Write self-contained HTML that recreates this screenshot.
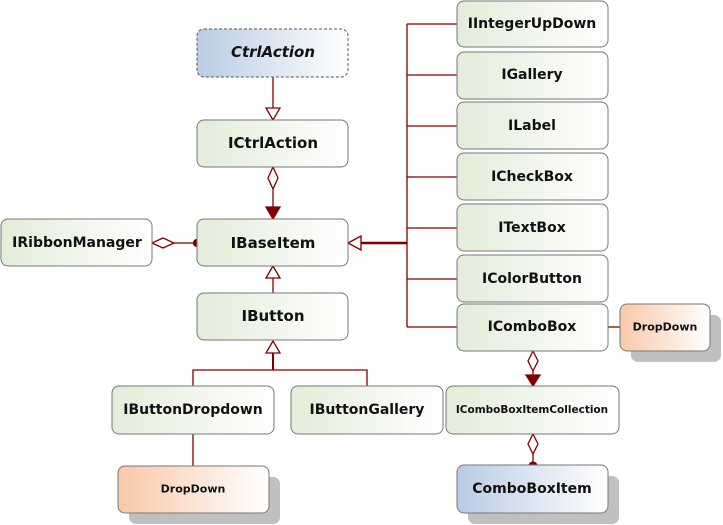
<!DOCTYPE html>
<html><head><meta charset="utf-8"><style>
html,body{margin:0;padding:0;background:#fff;width:723px;height:525px;overflow:hidden}
text{font-family:"DejaVu Sans","Liberation Sans",sans-serif;font-weight:bold;fill:#111;text-anchor:middle;dominant-baseline:central}
</style></head><body>
<svg width="723" height="525" viewBox="0 0 723 525" xmlns="http://www.w3.org/2000/svg">
<defs>
<linearGradient id="g" x1="0" x2="1"><stop offset="0" stop-color="#e3edd9"/><stop offset="1" stop-color="#ffffff"/></linearGradient>
<linearGradient id="b" x1="0" x2="1"><stop offset="0" stop-color="#b9cce4"/><stop offset="1" stop-color="#ffffff"/></linearGradient>
<linearGradient id="o" x1="0" x2="1"><stop offset="0" stop-color="#f8c9a8"/><stop offset="1" stop-color="#ffffff"/></linearGradient>
</defs>
<g stroke="#800000" stroke-width="1.3" fill="none">
<!-- trunk -->
<line x1="407" y1="24" x2="407" y2="327"/>
<line x1="407" y1="24" x2="457" y2="24"/>
<line x1="407" y1="75" x2="457" y2="75"/>
<line x1="407" y1="126" x2="457" y2="126"/>
<line x1="407" y1="177" x2="457" y2="177"/>
<line x1="407" y1="228" x2="457" y2="228"/>
<line x1="407" y1="279" x2="457" y2="279"/>
<line x1="407" y1="327" x2="457" y2="327"/>
<line x1="361" y1="243" x2="407" y2="243" stroke-width="2.5"/>
<polygon points="348,243 361,236 361,250" fill="#fff"/>
<!-- CtrlAction -> ICtrlAction -->
<line x1="273" y1="77" x2="273" y2="108"/>
<polygon points="273,120 266,108 280,108" fill="#fff"/>
<!-- ICtrlAction -> IBaseItem -->
<polygon points="273,167 278,178 273,189 268,178" fill="#fff"/>
<line x1="273" y1="189" x2="273" y2="208"/>
<polygon points="273,219 266,207 280,207" fill="#800000"/>
<!-- IRibbonManager -->
<polygon points="152,243 163,238 174,243 163,248" fill="#fff"/>
<line x1="174" y1="243" x2="197" y2="243"/>
<circle cx="197" cy="243" r="3.5" fill="#800000"/>
<!-- IButton -> IBaseItem -->
<line x1="273" y1="278" x2="273" y2="293"/>
<polygon points="273,266 266,278 280,278" fill="#fff"/>
<!-- children -> IButton -->
<polygon points="273,341 266,353 280,353" fill="#fff"/>
<line x1="273" y1="353" x2="273" y2="370" stroke-width="2"/>
<polyline points="193,386 193,370 367,370 367,386"/>
<line x1="193" y1="434" x2="193" y2="466"/>
<!-- combo dropdown -->
<line x1="608" y1="327" x2="620" y2="327"/>
<polygon points="533,351 538,361 533,371 528,361" fill="#fff"/>
<line x1="533" y1="371" x2="533" y2="376"/>
<polygon points="533,386 526,375 540,375" fill="#800000"/>
<polygon points="533,434 538,444 533,454 528,444" fill="#fff"/>
<line x1="533" y1="454" x2="533" y2="465"/>
<circle cx="533" cy="466" r="4" fill="#800000"/>
</g>
<!-- shadows -->
<rect x="631" y="315" width="90" height="47" rx="7" fill="#c0c0c0"/>
<rect x="129" y="477" width="151" height="47" rx="7" fill="#c0c0c0"/>
<rect x="468" y="476" width="151" height="48" rx="7" fill="#c0c0c0"/>
<g stroke="#777" stroke-width="1">
<rect x="197" y="29" width="151" height="48" rx="7" fill="url(#b)" stroke="#555" stroke-dasharray="3,2"/>
<rect x="197" y="120" width="151" height="47" rx="7" fill="url(#g)"/>
<rect x="197" y="219" width="151" height="47" rx="7" fill="url(#g)"/>
<rect x="1" y="219" width="151" height="47" rx="7" fill="url(#g)"/>
<rect x="197" y="293" width="151" height="47" rx="7" fill="url(#g)"/>
<rect x="112" y="386" width="162" height="48" rx="7" fill="url(#g)"/>
<rect x="291" y="386" width="152" height="48" rx="7" fill="url(#g)"/>
<rect x="118" y="466" width="151" height="47" rx="7" fill="url(#o)"/>
<rect x="457" y="1" width="151" height="46" rx="7" fill="url(#g)"/>
<rect x="457" y="52" width="151" height="47" rx="7" fill="url(#g)"/>
<rect x="457" y="102" width="151" height="47" rx="7" fill="url(#g)"/>
<rect x="457" y="153" width="151" height="47" rx="7" fill="url(#g)"/>
<rect x="457" y="204" width="151" height="47" rx="7" fill="url(#g)"/>
<rect x="457" y="255" width="151" height="47" rx="7" fill="url(#g)"/>
<rect x="457" y="304" width="151" height="47" rx="7" fill="url(#g)"/>
<rect x="620" y="304" width="90" height="47" rx="7" fill="url(#o)"/>
<rect x="446" y="386" width="173" height="48" rx="7" fill="url(#g)"/>
<rect x="457" y="465" width="151" height="48" rx="7" fill="url(#b)"/>
</g>
<text x="273" y="52" font-size="15" font-style="italic">CtrlAction</text>
<text x="273" y="143" font-size="15">ICtrlAction</text>
<text x="273" y="243" font-size="15">IBaseItem</text>
<text x="77" y="243" font-size="14">IRibbonManager</text>
<text x="273" y="316" font-size="15">IButton</text>
<text x="193" y="410" font-size="14">IButtonDropdown</text>
<text x="367" y="410" font-size="14">IButtonGallery</text>
<text x="193" y="489" font-size="11">DropDown</text>
<text x="532" y="24" font-size="14">IIntegerUpDown</text>
<text x="532" y="75" font-size="14">IGallery</text>
<text x="532" y="126" font-size="14">ILabel</text>
<text x="532" y="177" font-size="14">ICheckBox</text>
<text x="532" y="228" font-size="14">ITextBox</text>
<text x="532" y="279" font-size="14">IColorButton</text>
<text x="532" y="327" font-size="14">IComboBox</text>
<text x="665" y="327" font-size="11">DropDown</text>
<text x="532" y="410" font-size="10.5">IComboBoxItemCollection</text>
<text x="532" y="489" font-size="14">ComboBoxItem</text>
</svg>
</body></html>
